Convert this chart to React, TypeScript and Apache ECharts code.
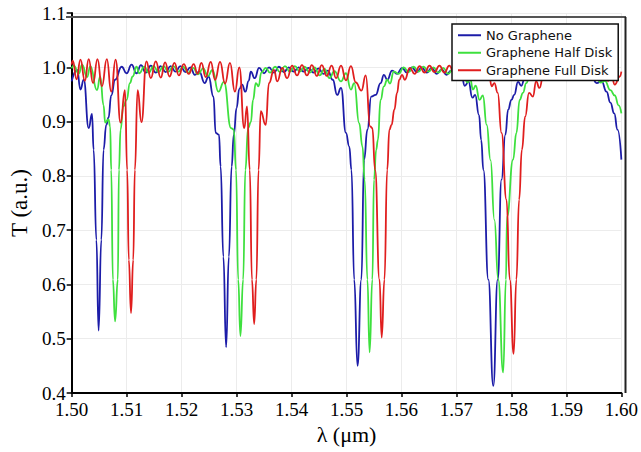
import React, { useEffect, useRef } from "react";
import * as echarts from "echarts";

const seriesNames = ["No Graphene", "Graphene Half Disk", "Graphene Full Disk"];
const seriesColors = ["#1c1ca8", "#3ee03e", "#e01e1e"];

// [wavelength (µm), transmission (a.u.)]
const noGraphene: [number, number][] = [
  [1.5000, 0.974], [1.5010, 0.995], [1.5016, 0.959], [1.5022, 0.977], [1.5031, 0.888],
  [1.5037, 0.914], [1.5040, 0.848], [1.5045, 0.682], [1.5049, 0.515], [1.5054, 0.682],
  [1.5058, 0.848], [1.5063, 0.894], [1.5067, 0.907], [1.5072, 0.948], [1.5079, 0.977],
  [1.5091, 1.001], [1.5100, 0.989], [1.5109, 1.005], [1.5118, 0.989], [1.5126, 1.004],
  [1.5135, 0.990], [1.5144, 1.003], [1.5153, 0.990], [1.5162, 1.002], [1.5171, 0.991],
  [1.5180, 1.002], [1.5189, 0.992], [1.5198, 1.002], [1.5207, 0.991], [1.5216, 1.000],
  [1.5224, 0.986], [1.5232, 0.992], [1.5242, 0.971], [1.5249, 0.983], [1.5258, 0.946],
  [1.5262, 0.879], [1.5268, 0.876], [1.5271, 0.817], [1.5276, 0.651], [1.5281, 0.484],
  [1.5286, 0.651], [1.5291, 0.817], [1.5295, 0.876], [1.5300, 0.925], [1.5305, 0.960],
  [1.5310, 0.968], [1.5316, 0.955], [1.5322, 0.975], [1.5326, 0.992], [1.5333, 0.980],
  [1.5341, 0.999], [1.5350, 0.989], [1.5359, 1.000], [1.5368, 0.990], [1.5377, 1.001],
  [1.5386, 0.991], [1.5395, 1.000], [1.5404, 0.992], [1.5413, 1.000], [1.5422, 0.992],
  [1.5431, 0.999], [1.5440, 0.990], [1.5449, 0.998], [1.5458, 0.988], [1.5466, 0.994],
  [1.5475, 0.977], [1.5483, 0.949], [1.5490, 0.962], [1.5499, 0.879], [1.5505, 0.854],
  [1.5509, 0.811], [1.5514, 0.609], [1.5520, 0.450], [1.5527, 0.609], [1.5532, 0.830],
  [1.5538, 0.885], [1.5545, 0.946], [1.5553, 0.949], [1.5562, 0.971], [1.5568, 0.986],
  [1.5574, 0.977], [1.5583, 0.994], [1.5592, 0.988], [1.5601, 0.999], [1.5610, 0.990],
  [1.5619, 1.000], [1.5628, 0.991], [1.5637, 1.000], [1.5646, 0.990], [1.5655, 0.999],
  [1.5664, 0.988], [1.5673, 0.996], [1.5682, 0.986], [1.5690, 0.994], [1.5703, 0.981],
  [1.5709, 0.988], [1.5715, 0.966], [1.5722, 0.973], [1.5729, 0.944], [1.5734, 0.949],
  [1.5741, 0.912], [1.5745, 0.866], [1.5749, 0.811], [1.5758, 0.609], [1.5767, 0.413],
  [1.5775, 0.609], [1.5782, 0.793], [1.5789, 0.876], [1.5794, 0.922], [1.5800, 0.940],
  [1.5805, 0.949], [1.5812, 0.973], [1.5818, 0.966], [1.5825, 0.984], [1.5832, 0.977],
  [1.5839, 0.995], [1.5848, 0.986], [1.5857, 0.996], [1.5866, 0.987], [1.5875, 0.997],
  [1.5884, 0.988], [1.5893, 0.996], [1.5902, 0.987], [1.5911, 0.994], [1.5920, 0.985],
  [1.5929, 0.990], [1.5937, 0.977], [1.5946, 0.982], [1.5955, 0.971], [1.5964, 0.974],
  [1.5973, 0.955], [1.5980, 0.935], [1.5987, 0.915], [1.5993, 0.885], [1.6000, 0.830],
];

const halfDisk: [number, number][] = [
  [1.5000, 0.998], [1.5004, 1.003], [1.5013, 0.988], [1.5019, 1.005], [1.5028, 0.982],
  [1.5034, 1.002], [1.5046, 0.958], [1.5052, 0.983], [1.5058, 0.930], [1.5061, 0.898],
  [1.5067, 0.904], [1.5070, 0.891], [1.5072, 0.811], [1.5075, 0.609], [1.5079, 0.532],
  [1.5084, 0.609], [1.5086, 0.811], [1.5089, 0.885], [1.5094, 0.928], [1.5100, 0.940],
  [1.5106, 0.971], [1.5111, 0.983], [1.5118, 1.001], [1.5123, 0.989], [1.5132, 1.001],
  [1.5140, 0.990], [1.5149, 1.002], [1.5158, 0.991], [1.5167, 1.002], [1.5176, 0.992],
  [1.5185, 1.002], [1.5194, 0.992], [1.5203, 1.001], [1.5212, 0.990], [1.5221, 0.999],
  [1.5230, 0.987], [1.5239, 0.998], [1.5248, 0.984], [1.5256, 0.995], [1.5267, 0.955],
  [1.5277, 0.973], [1.5290, 0.888], [1.5295, 0.885], [1.5299, 0.811], [1.5303, 0.609],
  [1.5307, 0.505], [1.5312, 0.609], [1.5316, 0.811], [1.5321, 0.888], [1.5326, 0.899],
  [1.5330, 0.940], [1.5335, 0.971], [1.5340, 0.965], [1.5345, 0.990], [1.5353, 0.999],
  [1.5361, 0.990], [1.5370, 1.001], [1.5379, 0.991], [1.5388, 1.002], [1.5397, 0.992],
  [1.5406, 1.002], [1.5415, 0.992], [1.5424, 1.001], [1.5433, 0.990], [1.5442, 1.000],
  [1.5451, 0.985], [1.5460, 0.997], [1.5469, 0.980], [1.5478, 0.993], [1.5490, 0.974],
  [1.5499, 0.989], [1.5508, 0.959], [1.5514, 0.971], [1.5523, 0.897], [1.5529, 0.854],
  [1.5533, 0.793], [1.5538, 0.609], [1.5542, 0.475], [1.5547, 0.609], [1.5550, 0.793],
  [1.5554, 0.848], [1.5557, 0.866], [1.5562, 0.940], [1.5568, 0.965], [1.5574, 0.977],
  [1.5579, 0.970], [1.5586, 0.992], [1.5595, 0.988], [1.5604, 1.000], [1.5613, 0.991],
  [1.5622, 1.001], [1.5631, 0.992], [1.5640, 1.001], [1.5649, 0.992], [1.5658, 1.000],
  [1.5667, 0.990], [1.5676, 0.999], [1.5685, 0.988], [1.5694, 0.997], [1.5703, 0.982],
  [1.5712, 0.990], [1.5720, 0.972], [1.5725, 0.978], [1.5730, 0.959], [1.5735, 0.966],
  [1.5742, 0.940], [1.5748, 0.948], [1.5755, 0.894], [1.5762, 0.829], [1.5769, 0.719],
  [1.5776, 0.609], [1.5785, 0.438], [1.5790, 0.609], [1.5792, 0.725], [1.5803, 0.830],
  [1.5809, 0.879], [1.5815, 0.940], [1.5821, 0.953], [1.5827, 0.971], [1.5833, 0.983],
  [1.5839, 0.977], [1.5845, 0.995], [1.5854, 0.988], [1.5863, 0.999], [1.5872, 0.990],
  [1.5881, 0.999], [1.5890, 0.990], [1.5899, 0.998], [1.5908, 0.988], [1.5917, 0.996],
  [1.5926, 0.985], [1.5935, 0.992], [1.5944, 0.978], [1.5953, 0.985], [1.5962, 0.972],
  [1.5970, 0.975], [1.5980, 0.958], [1.5988, 0.948], [1.5995, 0.930], [1.6000, 0.915],
];

const fullDisk: [number, number][] = [
  [1.5000, 1.005], [1.5002, 1.012], [1.5009, 0.978], [1.5016, 1.014], [1.5024, 0.975],
  [1.5031, 1.015], [1.5039, 0.971], [1.5047, 1.015], [1.5055, 0.965], [1.5064, 1.015],
  [1.5072, 0.955], [1.5080, 1.014], [1.5089, 0.898], [1.5097, 0.958], [1.5101, 0.811],
  [1.5104, 0.645], [1.5108, 0.547], [1.5112, 0.645], [1.5115, 0.811], [1.5120, 0.958],
  [1.5127, 0.899], [1.5136, 1.011], [1.5144, 0.980], [1.5153, 1.011], [1.5162, 0.981],
  [1.5170, 1.009], [1.5178, 0.983], [1.5187, 1.008], [1.5195, 0.985], [1.5204, 1.006],
  [1.5213, 0.988], [1.5222, 1.006], [1.5229, 0.988], [1.5236, 1.008], [1.5244, 0.982],
  [1.5253, 1.010], [1.5261, 0.977], [1.5270, 1.010], [1.5279, 0.970], [1.5288, 1.008],
  [1.5297, 0.955], [1.5305, 1.000], [1.5314, 0.888], [1.5319, 0.928], [1.5324, 0.811],
  [1.5328, 0.609], [1.5332, 0.527], [1.5336, 0.609], [1.5340, 0.811], [1.5344, 0.919],
  [1.5353, 0.894], [1.5359, 0.971], [1.5368, 0.995], [1.5374, 0.974], [1.5383, 0.999],
  [1.5392, 0.980], [1.5401, 1.003], [1.5410, 0.985], [1.5419, 1.004], [1.5428, 0.985],
  [1.5437, 1.004], [1.5446, 0.984], [1.5455, 1.004], [1.5464, 0.984], [1.5473, 1.003],
  [1.5481, 0.980], [1.5490, 1.003], [1.5499, 0.976], [1.5508, 1.002], [1.5517, 0.972],
  [1.5527, 0.957], [1.5535, 0.985], [1.5543, 0.891], [1.5547, 0.888], [1.5552, 0.811],
  [1.5560, 0.609], [1.5564, 0.502], [1.5569, 0.609], [1.5574, 0.811], [1.5578, 0.885],
  [1.5582, 0.894], [1.5587, 0.922], [1.5592, 0.953], [1.5596, 0.977], [1.5601, 0.986],
  [1.5606, 0.977], [1.5615, 0.999], [1.5624, 0.988], [1.5633, 1.002], [1.5642, 0.990],
  [1.5651, 1.003], [1.5660, 0.991], [1.5669, 1.003], [1.5678, 0.990], [1.5687, 1.003],
  [1.5696, 0.988], [1.5705, 1.002], [1.5714, 0.985], [1.5723, 1.001], [1.5732, 0.982],
  [1.5741, 0.998], [1.5750, 0.978], [1.5759, 0.990], [1.5764, 0.965], [1.5769, 0.971],
  [1.5775, 0.953], [1.5782, 0.879], [1.5791, 0.756], [1.5797, 0.609], [1.5804, 0.472],
  [1.5809, 0.609], [1.5814, 0.756], [1.5819, 0.848], [1.5825, 0.909], [1.5832, 0.953],
  [1.5839, 0.946], [1.5845, 0.974], [1.5851, 0.962], [1.5859, 0.992], [1.5868, 0.984],
  [1.5877, 0.999], [1.5886, 0.986], [1.5895, 1.000], [1.5904, 0.987], [1.5913, 1.000],
  [1.5922, 0.986], [1.5931, 0.998], [1.5940, 0.984], [1.5949, 0.995], [1.5958, 0.980],
  [1.5967, 0.990], [1.5976, 0.975], [1.5982, 0.985], [1.5988, 0.968], [1.5997, 0.983],
  [1.6000, 0.992],
];

const seriesData = [noGraphene, halfDisk, fullDisk];

const xAxisName = "λ (μm)";
const yAxisName = "T (a.u.)";
const serifFont = "Liberation Serif";

export default function App() {
  const ref = useRef<HTMLDivElement>(null);
  useEffect(() => {
    if (!ref.current) return;
    const chart = echarts.init(ref.current, null, { renderer: "svg" });
    chart.setOption({
      animation: false,
      backgroundColor: "#ffffff",
      grid: { left: 66, top: 13, width: 559, height: 380, containLabel: false },
      xAxis: {
        type: "value",
        min: 1.5,
        max: 1.6,
        interval: 0.01,
        name: xAxisName,
        nameLocation: "middle",
        nameGap: 30,
        nameTextStyle: { fontFamily: serifFont, fontSize: 22, color: "#000" },
        axisLine: { show: true, onZero: false, lineStyle: { color: "#000", width: 2 } },
        axisTick: { show: true, inside: false, length: 4, lineStyle: { color: "#000", width: 1.5 } },
        axisLabel: {
          fontFamily: serifFont,
          fontSize: 19,
          color: "#000",
          margin: 7,
          formatter: (v: number) => v.toFixed(2),
        },
        splitLine: { show: true, lineStyle: { color: "#ececec", width: 1 } },
      },
      yAxis: {
        type: "value",
        min: 0.4,
        max: 1.1,
        interval: 0.1,
        name: yAxisName,
        nameLocation: "middle",
        nameGap: 36,
        nameTextStyle: { fontFamily: serifFont, fontSize: 23, color: "#000" },
        axisLine: { show: true, onZero: false, lineStyle: { color: "#000", width: 2 } },
        axisTick: { show: true, inside: false, length: 5, lineStyle: { color: "#000", width: 1.5 } },
        axisLabel: {
          fontFamily: serifFont,
          fontSize: 19,
          color: "#000",
          margin: 6,
          formatter: (v: number) => v.toFixed(1),
        },
        splitLine: { show: true, lineStyle: { color: "#ececec", width: 1 } },
      },
      legend: {
        data: seriesNames,
        orient: "vertical",
        left: 452,
        top: 24,
        z: 20,
        icon: "rect",
        itemWidth: 23,
        itemHeight: 2,
        itemGap: 3,
        padding: [4, 6, 3, 6],
        backgroundColor: "#ffffff",
        borderColor: "#111",
        borderWidth: 1.5,
        borderRadius: 0,
        textStyle: {
          fontFamily: "DejaVu Sans",
          fontSize: 13,
          lineHeight: 14.5,
          color: "#111",
        },
      },
      graphic: [
        {
          type: "line",
          shape: { x1: 66, y1: 17, x2: 626, y2: 17 },
          style: { stroke: "#555", lineWidth: 2 },
          z: 10,
        },
        {
          type: "line",
          shape: { x1: 625.5, y1: 17, x2: 625.5, y2: 393 },
          style: { stroke: "#222", lineWidth: 2 },
          z: 10,
        },
      ],
      series: seriesNames.map((name, i) => ({
        name,
        type: "line",
        data: seriesData[i],
        symbol: "none",
        showSymbol: false,
        smooth: 0.5,
        smoothMonotone: "x",
        color: seriesColors[i],
        itemStyle: { color: seriesColors[i] },
        lineStyle: { color: seriesColors[i], width: 1.8 },
        z: 2,
      })),
    });
    return () => chart.dispose();
  }, []);
  return (
    <div
      ref={ref}
      style={{ position: "fixed", left: 0, top: 0, width: 641, height: 452 }}
    />
  );
}
